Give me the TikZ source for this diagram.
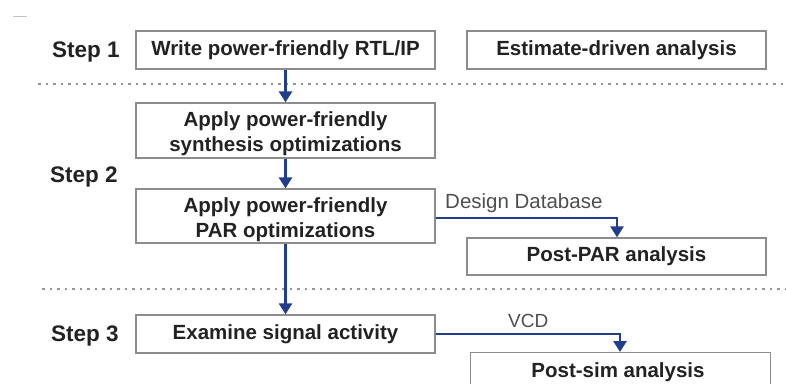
\documentclass[tikz,border=0pt]{standalone}
\usepackage{fontspec}
\setmainfont{Liberation Sans}
\usetikzlibrary{arrows.meta,positioning}
\definecolor{flowblue}{RGB}{32,62,140}
\definecolor{boxgray}{RGB}{140,140,140}
\definecolor{inkgray}{RGB}{34,34,34}
\definecolor{dotgray}{RGB}{150,150,150}
\tikzset{
  boxfont/.style={font=\fontsize{20.5}{25}\selectfont\bfseries},
  stepbox/.style={draw=boxgray, line width=1.3pt, minimum width=299pt, minimum height=38pt,
    inner sep=0pt, align=center, text=inkgray, boxfont},
  boxtext/.style={inner sep=0pt, align=center, text=inkgray, boxfont},
  steplabel/.style={text=inkgray, font=\fontsize{22.5}{26}\selectfont\bfseries, anchor=base west, inner sep=0pt},
  flowlabel/.style={text=inkgray!80, anchor=base west, inner sep=0pt},
  flow/.style={draw=flowblue, line width=2.8pt, -{Triangle[length=11pt,width=13pt]}},
  divider/.style={draw=dotgray, line width=2pt, dash pattern=on 2.5pt off 5pt},
}
\begin{document}
\begin{tikzpicture}[x=1pt,y=-1pt]
  \useasboundingbox (0,0) rectangle (786,383);
  \clip (0,0) rectangle (786,383);
  % small mark in the corner
  \draw[dotgray!60, line width=1pt] (13,16) -- (27,16);

  % step labels
  \node[steplabel] (s1) at (52,57) {Step 1};
  \node[steplabel] (s2) at (50,182) {Step 2};
  \node[steplabel] (s3) at (51,341.5) {Step 3};

  % dividers between the steps
  \coordinate (d1a) at (38,84);  \coordinate (d1b) at (786,84);
  \coordinate (d2a) at (42,289); \coordinate (d2b) at (786,289);
  \path[divider] (d1a) -- (d1b);
  \path[divider] (d2a) -- (d2b);

  % boxes of the flow
  \node[stepbox] (rtl) at (285.5,50) {Write power-friendly RTL/IP};
  \node[stepbox] (est) at (616.5,50) {Estimate-driven analysis};
  \node[stepbox, minimum height=55pt] (syn) at (285.5,130.5) {};
  \node[boxtext] (synt) at ([yshift=-3pt]syn.center) {Apply power-friendly\\synthesis optimizations};
  \node[stepbox, minimum height=54pt] (par) at (285.5,216) {};
  \node[boxtext] (part) at ([yshift=-3.5pt]par.center) {Apply power-friendly\\PAR optimizations};
  \node[stepbox, minimum height=37pt] (ppar) at (616.5,256.5) {Post-PAR analysis};
  \node[stepbox] (sig) at (285.5,334) {Examine signal activity};
  \node[stepbox, minimum width=300pt, minimum height=60pt, anchor=north west] (psim) at (470,352) {};
  \node[boxtext, anchor=base] (psimt) at (618,377.5) {Post-sim analysis};

  % connectors
  \draw[flow] (rtl.south) -- (syn.north);
  \draw[flow] (syn.south) -- (par.north);
  \draw[flow] (par.south) -- (sig.north);
  \coordinate (dbturn) at (617,218);
  \draw[flow] (par.east |- dbturn) -- (dbturn) -- (dbturn |- ppar.north);
  \coordinate (vcdturn) at (620,334);
  \draw[flow] (sig.east) -- (vcdturn) -- (vcdturn |- psim.north);

  % connector labels
  \node[flowlabel, font=\fontsize{20.5}{24}\selectfont] (dblab) at (445,208) {Design Database};
  \node[flowlabel, font=\fontsize{19}{22}\selectfont] (vcdlab) at (508,327) {VCD};
\end{tikzpicture}
\end{document}
